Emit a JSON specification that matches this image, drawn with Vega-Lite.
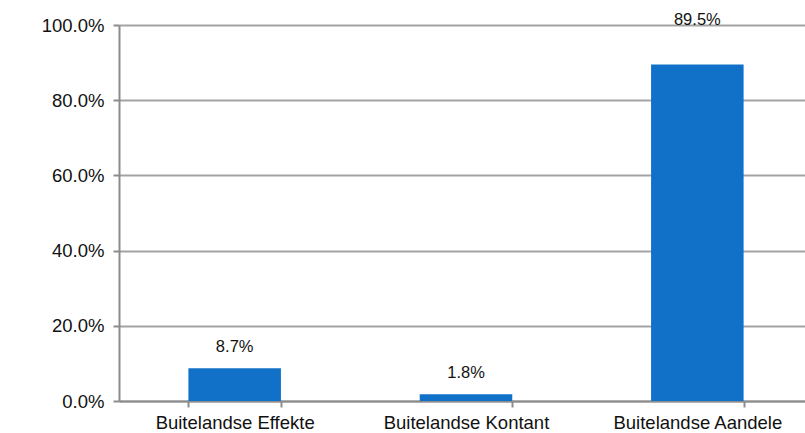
{
  "$schema": "https://vega.github.io/schema/vega-lite/v6.json",
  "width": 686,
  "height": 376,
  "autosize": "none",
  "padding": {"left": 119, "top": 25, "right": 0, "bottom": 32},
  "background": "white",
  "config": {
    "view": {"stroke": null},
    "font": "Liberation Sans"
  },
  "data": {
    "values": [
      {"kategorie": "Buitelandse Effekte", "waarde": 0.087},
      {"kategorie": "Buitelandse Kontant", "waarde": 0.018},
      {"kategorie": "Buitelandse Aandele", "waarde": 0.895}
    ]
  },
  "encoding": {
    "x": {
      "field": "kategorie",
      "type": "nominal",
      "sort": null,
      "scale": {"range": [0, 694], "paddingInner": 0.6, "paddingOuter": 0.3},
      "axis": {
        "title": null,
        "labelAngle": 0,
        "labelFontSize": 18.5,
        "labelColor": "#111111",
        "labelPadding": 6,
        "tickBand": "extent",
        "tickSize": 6,
        "tickColor": "#8c8c8c",
        "tickWidth": 2,
        "domainColor": "#8c8c8c",
        "domainWidth": 2,
        "grid": false
      }
    },
    "y": {
      "field": "waarde",
      "type": "quantitative",
      "scale": {"domain": [0, 1], "nice": false},
      "axis": {
        "title": null,
        "format": ".1%",
        "values": [0, 0.2, 0.4, 0.6, 0.8, 1.0],
        "labelFontSize": 18.5,
        "labelColor": "#111111",
        "labelPadding": 9,
        "tickSize": 6,
        "tickColor": "#8c8c8c",
        "tickWidth": 2,
        "domainColor": "#8c8c8c",
        "domainWidth": 2,
        "grid": true,
        "gridColor": "#a3a3a3",
        "gridWidth": 2
      }
    }
  },
  "layer": [
    {"mark": {"type": "bar", "color": "#1170c8"}},
    {
      "transform": [{"filter": "datum.waarde < 0.5"}],
      "mark": {"type": "text", "baseline": "bottom", "dy": -13, "fontSize": 16.5, "color": "#111111"},
      "encoding": {
        "text": {"field": "waarde", "type": "quantitative", "format": ".1%"}
      }
    },
    {
      "transform": [{"filter": "datum.waarde >= 0.5"}],
      "mark": {"type": "text", "baseline": "bottom", "dy": -36, "fontSize": 16.5, "color": "#111111"},
      "encoding": {
        "text": {"field": "waarde", "type": "quantitative", "format": ".1%"}
      }
    }
  ]
}
